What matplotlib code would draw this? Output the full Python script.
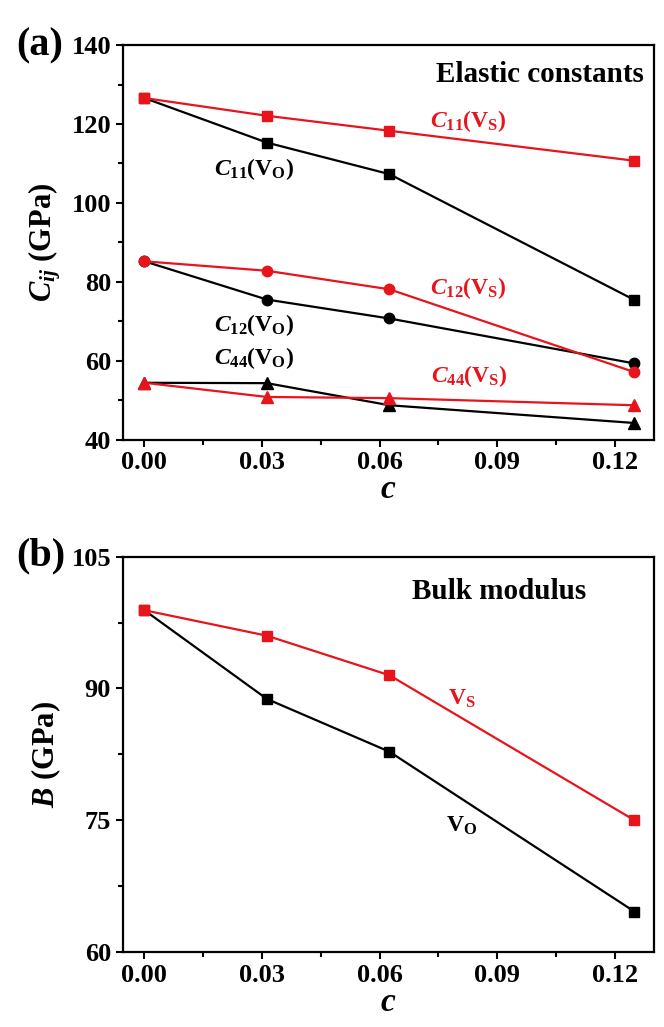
import numpy as np
import matplotlib
matplotlib.use('Agg')
import matplotlib.pyplot as plt
from matplotlib.ticker import MultipleLocator

plt.rcParams['font.family'] = ['Liberation Serif', 'DejaVu Serif']
plt.rcParams['font.weight'] = 'bold'
plt.rcParams['axes.labelweight'] = 'bold'
plt.rcParams['mathtext.fontset'] = 'custom'
plt.rcParams['mathtext.rm'] = 'Liberation Serif:bold'
plt.rcParams['mathtext.bf'] = 'Liberation Serif:bold'
plt.rcParams['mathtext.it'] = 'Liberation Serif:bold:italic'

# 데이터
c = [0.0, 0.03125, 0.0625, 0.125]
c11_vs = [126.6, 122.1, 118.3, 110.7]
c11_vo = [126.6, 115.3, 107.3, 75.4]
c12_vs = [85.2, 82.8, 78.1, 57.1]
c12_vo = [85.2, 75.5, 70.7, 59.3]
c44_vs = [54.4, 50.8, 50.5, 48.7]
c44_vo = [54.4, 54.3, 48.7, 44.2]
b_vs = [98.9, 96.0, 91.5, 75.0]
b_vo = [98.9, 88.8, 82.8, 64.6]

RED = '#e8141c'
BLK = 'black'

fig = plt.figure(figsize=(6.64, 10.27), dpi=100)
ax1 = fig.add_axes([0.185, 0.572, 0.800, 0.384])
ax2 = fig.add_axes([0.185, 0.073, 0.800, 0.385])

lw = 1.6
ms = 7.5
ax1.plot(c, c11_vo, color=BLK, marker='s', lw=lw, ms=ms)
ax1.plot(c, c11_vs, color=RED, marker='s', lw=lw, ms=ms)
ax1.plot(c, c12_vo, color=BLK, marker='o', lw=lw, ms=ms)
ax1.plot(c, c12_vs, color=RED, marker='o', lw=lw, ms=ms)
ax1.plot(c, c44_vo, color=BLK, marker='^', lw=lw, ms=ms + 1)
ax1.plot(c, c44_vs, color=RED, marker='^', lw=lw, ms=ms + 1)

ax2.plot(c, b_vo, color=BLK, marker='s', lw=lw, ms=ms)
ax2.plot(c, b_vs, color=RED, marker='s', lw=lw, ms=ms)

# 주석 텍스트
fs = 17
ax1.text(0.1275, 132.5, 'Elastic constants', ha='right', va='center', fontsize=21)
ax1.text(0.0826, 120.8, r'$C_{11}(\mathrm{V_S})$', color=RED, ha='center', va='center', fontsize=fs)
ax1.text(0.028, 108.6, r'$C_{11}(\mathrm{V_O})$', color=BLK, ha='center', va='center', fontsize=fs)
ax1.text(0.0826, 78.5, r'$C_{12}(\mathrm{V_S})$', color=RED, ha='center', va='center', fontsize=fs)
ax1.text(0.028, 69.0, r'$C_{12}(\mathrm{V_O})$', color=BLK, ha='center', va='center', fontsize=fs)
ax1.text(0.028, 60.6, r'$C_{44}(\mathrm{V_O})$', color=BLK, ha='center', va='center', fontsize=fs)
ax1.text(0.083, 56.0, r'$C_{44}(\mathrm{V_S})$', color=RED, ha='center', va='center', fontsize=fs)

ax2.text(0.0905, 101.0, 'Bulk modulus', ha='center', va='center', fontsize=21)
ax2.text(0.081, 88.8, r'$\mathrm{V_S}$', color=RED, ha='center', va='center', fontsize=fs)
ax2.text(0.081, 74.4, r'$\mathrm{V_O}$', color=BLK, ha='center', va='center', fontsize=fs)

for ax in (ax1, ax2):
    ax.set_xlim(-0.0055, 0.130)
    ax.xaxis.set_major_locator(MultipleLocator(0.03))
    ax.xaxis.set_minor_locator(MultipleLocator(0.015))
    ax.xaxis.set_major_formatter(plt.FormatStrFormatter('%.2f'))
    ax.tick_params(which='both', direction='out', top=False, right=False,
                   width=1.5, labelsize=19)
    ax.tick_params(which='major', length=5)
    ax.tick_params(which='minor', length=3.5)
    for s in ax.spines.values():
        s.set_linewidth(1.6)
    ax.set_xlabel(r'$c$', fontsize=24, labelpad=0)

ax1.set_ylim(40, 140)
ax1.yaxis.set_major_locator(MultipleLocator(20))
ax1.yaxis.set_minor_locator(MultipleLocator(10))
ax1.set_ylabel(r'$C_{ij}$ (GPa)', fontsize=22, labelpad=6)

ax2.set_ylim(60, 105)
ax2.yaxis.set_major_locator(MultipleLocator(15))
ax2.yaxis.set_minor_locator(MultipleLocator(7.5))
ax2.set_ylabel(r'$B$ (GPa)', fontsize=22, labelpad=6)

fig.text(0.025, 1 - 46 / 1027, '(a)', fontsize=29, va='center', ha='left')
fig.text(0.025, 1 - 556 / 1027, '(b)', fontsize=29, va='center', ha='left')

fig.savefig('out.png', dpi=100)
